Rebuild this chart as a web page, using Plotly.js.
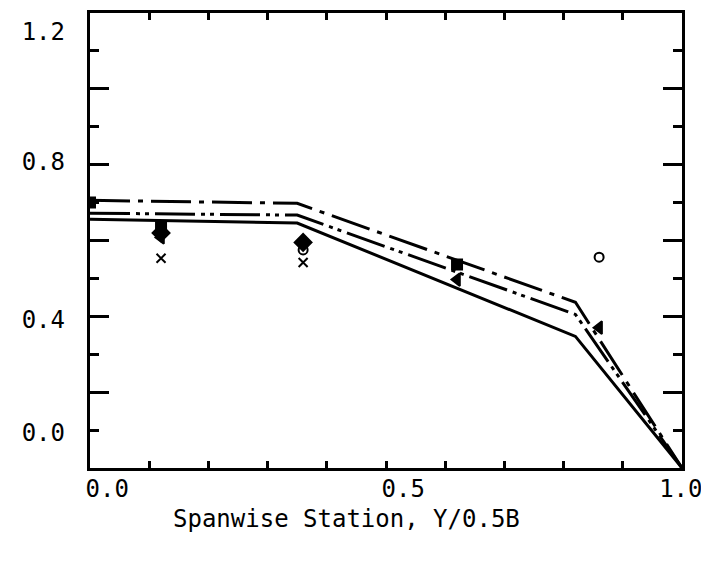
<!DOCTYPE html>
<html>
<head>
<meta charset="utf-8">
<script src="https://cdn.plot.ly/plotly-3.0.1.min.js"></script>
<style>html,body{margin:0;padding:0;background:#fff;}#chart{width:701px;height:564px;}</style>
</head>
<body>
<div id="chart"></div>
<script>
// Curves (spanwise distribution)
const curveX = [0.0, 0.35, 0.82, 1.0];
const curveA = [0.706, 0.698, 0.437, 0.0];   // long dash-dot
const curveB = [0.672, 0.667, 0.405, 0.0];   // dash-dot-dot
const curveC = [0.656, 0.646, 0.347, 0.0];   // solid

// Measured points
const sqX = [0.0, 0.12, 0.62];
const sqY = [0.700, 0.635, 0.537];
const diaX = [0.12, 0.36];
const diaY = [0.620, 0.595];
const triX = [0.12, 0.62, 0.86];
const triY = [0.608, 0.497, 0.370];
const circX = [0.12, 0.36, 0.86];
const circY = [0.628, 0.575, 0.556];
const crossX = [0.12, 0.36];
const crossY = [0.553, 0.542];

// Tick labels as typed on the original figure
const xLabelText = ['0.0', '0.5', '1.0'];
const xLabelPos = [0.029, 0.529, 0.998];
const yLabelText = ['0.0', '0.4', '0.8', '1.2'];
const yLabelPos = [0.093, 0.392, 0.807, 1.151];
const xTitle = 'Spanwise Station, Y/0.5B';

const line = (x, y, dash) => ({x: x, y: y, type: 'scatter', mode: 'lines',
  line: {color: '#000', width: 3, dash: dash}, showlegend: false, hoverinfo: 'skip'});
const pts = (x, y, sym, size) => ({x: x, y: y, type: 'scatter', mode: 'markers',
  marker: {symbol: sym, size: size, color: '#000', line: {color: '#000', width: 2}}, showlegend: false});

const data = [
  line(curveX, curveA, '40px,8px,5px,8px'),
  line(curveX, curveB, '40px,6px,4px,5px,4px,6px'),
  line(curveX, curveC, 'solid'),
  pts(sqX, sqY, 'square', 10),
  pts(diaX, diaY, 'diamond', 13),
  pts(triX, triY, 'triangle-left', 11),
  pts(circX, circY, 'circle-open', 9),
  pts(crossX, crossY, 'x-thin-open', 9),
  {x: [0, 1], y: [0, 1.2], xaxis: 'x2', yaxis: 'y2', type: 'scatter', mode: 'markers',
   marker: {opacity: 0}, showlegend: false, hoverinfo: 'skip'}
];

const font = {family: 'DejaVu Sans Mono, monospace', size: 24, color: '#000'};

const layout = {
  width: 701, height: 564,
  margin: {l: 90, r: 19, t: 13, b: 96},
  paper_bgcolor: '#fff', plot_bgcolor: '#fff',
  font: font,
  xaxis: {range: [0, 1], showgrid: false, zeroline: false, showline: true, linecolor: '#000', linewidth: 3,
    mirror: 'ticks', ticks: 'inside', tickmode: 'linear', tick0: 0, dtick: 0.1, ticklen: 7, tickwidth: 3,
    tickcolor: '#000', showticklabels: false},
  yaxis: {range: [0, 1.2], showgrid: false, zeroline: false, showline: true, linecolor: '#000', linewidth: 3,
    mirror: 'ticks', ticks: 'inside', tickmode: 'linear', tick0: 0, dtick: 0.2, ticklen: 19, tickwidth: 3,
    tickcolor: '#000', showticklabels: false,
    minor: {ticks: 'inside', dtick: 0.1, tick0: 0, ticklen: 9, tickwidth: 3, tickcolor: '#000'}},
  xaxis2: {range: [0, 1], overlaying: 'x', anchor: 'y2', side: 'bottom', showgrid: false, zeroline: false,
    showline: false, ticks: '', tickmode: 'array', tickvals: xLabelPos, ticktext: xLabelText,
    tickfont: font, ticklabelstandoff: 4, ticklabeloverflow: 'allow'},
  yaxis2: {range: [0, 1.2], overlaying: 'y', anchor: 'x2', side: 'left', showgrid: false, zeroline: false,
    showline: false, ticks: '', tickmode: 'array', tickvals: yLabelPos, ticktext: yLabelText,
    tickfont: font, ticklabelstandoff: 24, ticklabeloverflow: 'allow'},
  annotations: [{text: xTitle, xref: 'paper', yref: 'paper', x: 0.434, y: -0.112,
    xanchor: 'center', yanchor: 'middle', showarrow: false, font: font}]
};

Plotly.newPlot('chart', data, layout, {staticPlot: true});
</script>
</body>
</html>
